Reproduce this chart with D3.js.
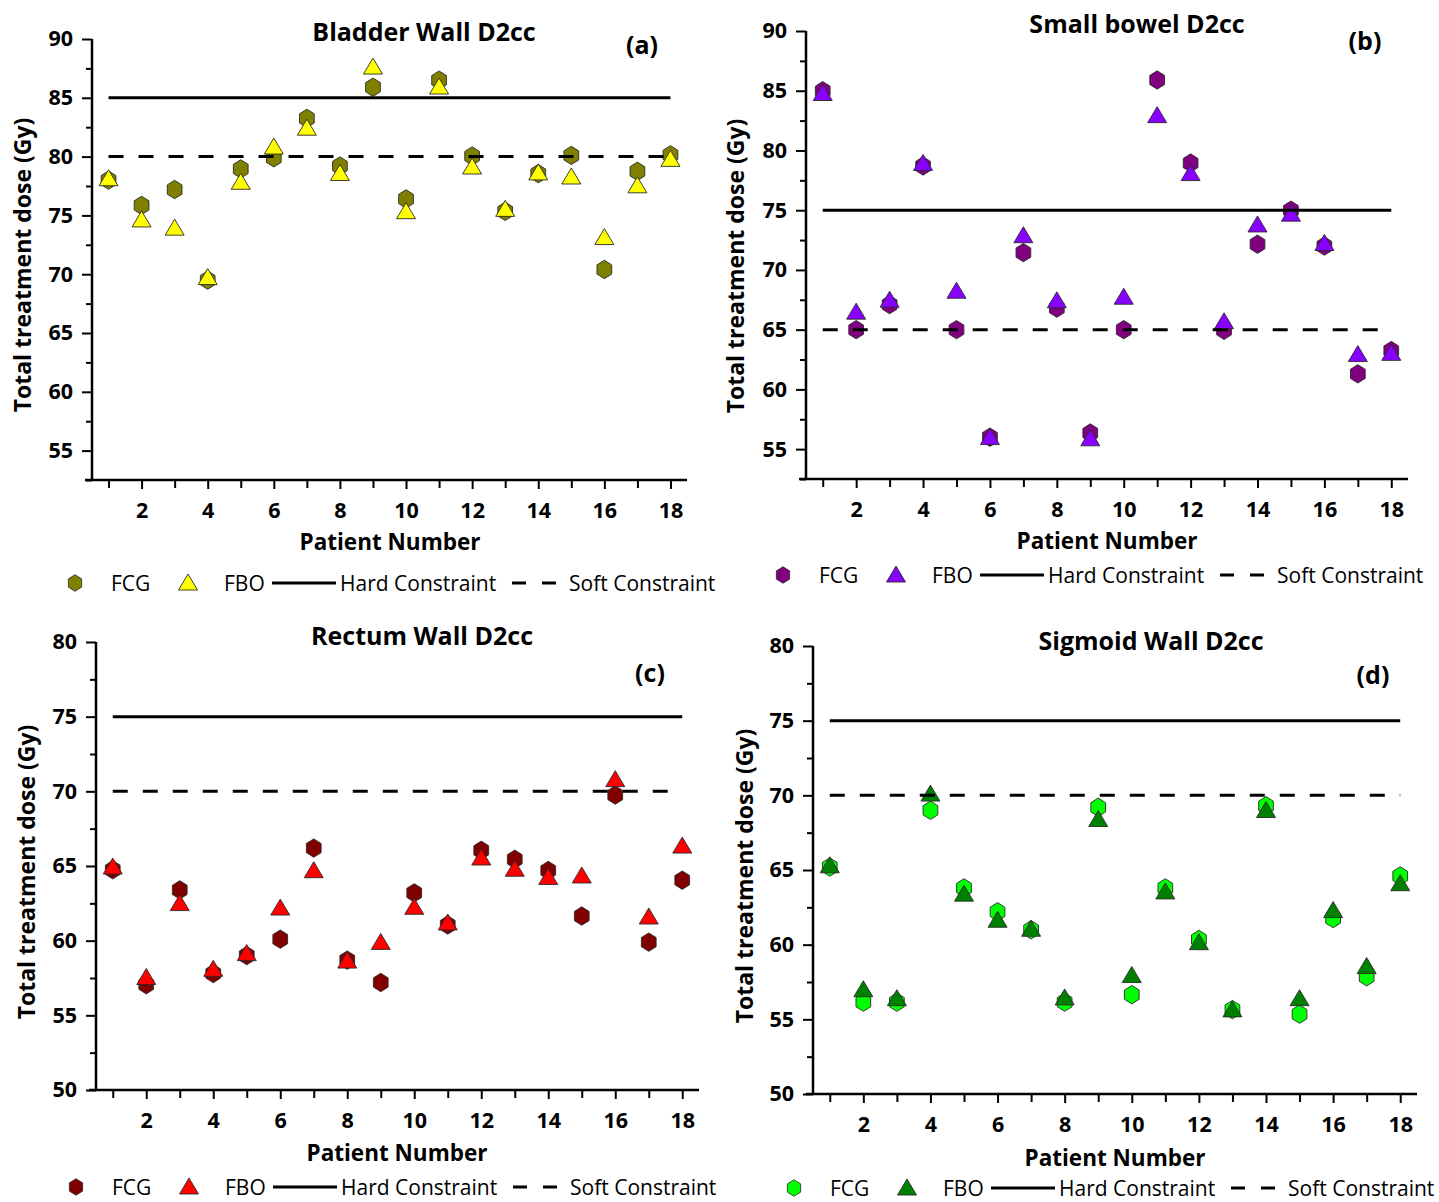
<!DOCTYPE html>
<html>
<head>
<meta charset="utf-8">
<script src="https://cdn.jsdelivr.net/npm/d3@7"></script>
<style>
  html, body { margin: 0; padding: 0; background: #ffffff; }
  svg { display: block; }
  text { font-family: "Open Sans", "DejaVu Sans", sans-serif; fill: #000; }
</style>
</head>
<body>
<svg id="chart" width="1439" height="1202"></svg>
<script>
// Patients and doses (Gy, EQD2 total treatment dose, D2cc)
const patients = [1, 2, 3, 4, 5, 6, 7, 8, 9, 10, 11, 12, 13, 14, 15, 16, 17, 18];
const patientTicks = [2, 4, 6, 8, 10, 12, 14, 16, 18];

const bladderFCG = [78.0, 75.85, 77.2, 69.5, 78.95, 79.9, 83.25, 79.2, 85.9, 76.4, 86.5, 80.05, 75.35, 78.55, 80.1, 70.4, 78.75, 80.15];
const bladderFBO = [78.2, 74.7, 74.0, 69.8, 77.9, 80.9, 82.5, 78.65, 87.7, 75.4, 86.0, 79.2, 75.6, 78.7, 78.35, 73.2, 77.6, 79.85];

const bowelFCG = [85.0, 65.0, 67.1, 78.7, 65.0, 56.0, 71.45, 66.8, 56.35, 65.0, 85.9, 78.95, 64.95, 72.15, 75.0, 72.0, 61.3, 63.25];
const bowelFBO = [84.85, 66.55, 67.55, 79.0, 68.3, 56.05, 72.95, 67.5, 55.95, 67.8, 83.0, 78.15, 65.75, 73.85, 74.75, 72.3, 63.0, 63.1];

const rectumFCG = [64.75, 57.05, 63.4, 57.8, 59.0, 60.1, 66.2, 58.7, 57.2, 63.2, 61.05, 66.05, 65.45, 64.7, 61.65, 69.75, 59.9, 64.05];
const rectumFBO = [65.0, 57.6, 62.55, 58.15, 59.2, 62.25, 64.75, 58.7, 59.95, 62.3, 61.25, 65.6, 64.85, 64.3, 64.4, 70.85, 61.65, 66.4];

const sigmoidFCG = [65.2, 56.15, 56.15, 69.0, 63.8, 62.2, 61.0, 56.15, 69.2, 56.65, 63.8, 60.35, 55.65, 69.3, 55.35, 61.75, 57.85, 64.6];
const sigmoidFBO = [65.35, 57.05, 56.45, 70.15, 63.45, 61.7, 61.1, 56.5, 68.45, 58.0, 63.6, 60.2, 55.7, 69.05, 56.45, 62.35, 58.6, 64.15];

// Dose constraints per organ [hard, soft]
const bladderLimits = [85, 80];
const bowelLimits = [75, 65];
const rectumLimits = [75, 70];
const sigmoidLimits = [75, 70];

// Dose axis ranges and labelled ticks
const bladderDomain = [52.5, 90];
const bowelDomain = [52.5, 90];
const rectumDomain = [50, 80];
const sigmoidDomain = [50, 80];
const doseTicksHigh = [55, 60, 65, 70, 75, 80, 85, 90];
const doseTicksLow = [50, 55, 60, 65, 70, 75, 80];

const legendLabels = ["FCG", "FBO", "Hard Constraint", "Soft Constraint"];
const xTitle = "Patient Number";
const yTitle = "Total treatment dose (Gy)";

// Panel layout
const panels = [
  { title: "Bladder Wall D2cc", tag: "(a)", fcg: bladderFCG, fbo: bladderFBO, limits: bladderLimits,
    domain: bladderDomain, ticks: doseTicksHigh, fcgColor: "#808000", fboColor: "#ffff00",
    left: 92, right: 687, top: 39, bottom: 480,
    titleXY: [424, 31], tagXY: [642, 44], yTitleXY: [22, 265], xTitleXY: [390, 541], legendXY: [75, 583] },
  { title: "Small bowel D2cc", tag: "(b)", fcg: bowelFCG, fbo: bowelFBO, limits: bowelLimits,
    domain: bowelDomain, ticks: doseTicksHigh, fcgColor: "#800080", fboColor: "#8800ff",
    left: 806, right: 1408, top: 31, bottom: 479,
    titleXY: [1137, 23], tagXY: [1365, 40], yTitleXY: [735, 266], xTitleXY: [1107, 540], legendXY: [783, 575] },
  { title: "Rectum Wall D2cc", tag: "(c)", fcg: rectumFCG, fbo: rectumFBO, limits: rectumLimits,
    domain: rectumDomain, ticks: doseTicksLow, fcgColor: "#800000", fboColor: "#ff0000",
    left: 96, right: 699, top: 642, bottom: 1090,
    titleXY: [422, 635], tagXY: [650, 672], yTitleXY: [26, 872], xTitleXY: [397, 1152], legendXY: [76, 1187] },
  { title: "Sigmoid Wall D2cc", tag: "(d)", fcg: sigmoidFCG, fbo: sigmoidFBO, limits: sigmoidLimits,
    domain: sigmoidDomain, ticks: doseTicksLow, fcgColor: "#00ff00", fboColor: "#008000",
    left: 813, right: 1417, top: 646, bottom: 1094,
    titleXY: [1151, 640], tagXY: [1373, 674], yTitleXY: [744, 876], xTitleXY: [1115, 1157], legendXY: [794, 1188] }
];

// Marker shapes: pointy-top hexagon and upward triangle
const hexPath = (() => {
  const rx = 8.5, ry = 9.2, pts = [];
  for (let i = 0; i < 6; i++) {
    const a = Math.PI / 2 + i * Math.PI / 3;
    pts.push([rx * Math.cos(a) / Math.cos(Math.PI / 6) * Math.cos(Math.PI / 6), -ry * Math.sin(a)]);
  }
  return "M" + pts.map(p => p.join(",")).join("L") + "Z";
})();
const triPath = "M0,-8L9.5,8L-9.5,8Z";

const svg = d3.select("#chart");

panels.forEach(p => {
  const g = svg.append("g");
  const x = d3.scaleLinear().domain([0.5, 18.5]).range([p.left, p.right]);
  const y = d3.scaleLinear().domain(p.domain).range([p.bottom, p.top]);

  // minor dose ticks halfway between labelled ticks
  const minor = [];
  for (let v = p.domain[0]; v <= p.domain[1] + 1e-9; v += 2.5) {
    if (!p.ticks.includes(v)) minor.push(v);
  }
  const oddPatients = patients.filter(d => !patientTicks.includes(d));

  const yMajor = g.append("g").attr("transform", `translate(${p.left},0)`)
    .call(d3.axisLeft(y).tickValues(p.ticks).tickSize(10).tickPadding(9).tickFormat(d3.format("d")));
  const yMinor = g.append("g").attr("transform", `translate(${p.left},0)`)
    .call(d3.axisLeft(y).tickValues(minor).tickSize(6).tickFormat(""));
  const xMajor = g.append("g").attr("transform", `translate(0,${p.bottom})`)
    .call(d3.axisBottom(x).tickValues(patientTicks).tickSize(9).tickPadding(14).tickFormat(d3.format("d")));
  const xMinor = g.append("g").attr("transform", `translate(0,${p.bottom})`)
    .call(d3.axisBottom(x).tickValues(oddPatients).tickSize(8).tickFormat(""));

  [yMajor, yMinor, xMajor, xMinor].forEach(ax => {
    ax.select(".domain").remove();
    ax.selectAll(".tick line").attr("stroke", "#000").attr("stroke-width", 2);
    ax.selectAll(".tick text").attr("font-family", "'Open Sans', sans-serif")
      .attr("font-size", 21.5).attr("font-weight", 700).attr("fill", "#000");
  });

  // axis lines
  g.append("line").attr("x1", p.left).attr("x2", p.left).attr("y1", p.top).attr("y2", p.bottom + 1)
    .attr("stroke", "#000").attr("stroke-width", 2.5);
  g.append("line").attr("x1", p.left - 7).attr("x2", p.right).attr("y1", p.bottom).attr("y2", p.bottom)
    .attr("stroke", "#000").attr("stroke-width", 2.5);

  // FCG hexagons, then FBO triangles on top
  g.append("g").selectAll("path").data(patients).join("path")
    .attr("d", hexPath)
    .attr("transform", (d, i) => `translate(${x(d)},${y(p.fcg[i])})`)
    .attr("fill", p.fcgColor).attr("stroke", "#2a2a2a").attr("stroke-width", 0.9);
  g.append("g").selectAll("path").data(patients).join("path")
    .attr("d", triPath)
    .attr("transform", (d, i) => `translate(${x(d)},${y(p.fbo[i])})`)
    .attr("fill", p.fboColor).attr("stroke", "#2a2a2a").attr("stroke-width", 0.9);

  // constraint lines
  g.append("line").attr("x1", x(1)).attr("x2", x(18))
    .attr("y1", y(p.limits[0])).attr("y2", y(p.limits[0]))
    .attr("stroke", "#000").attr("stroke-width", 3);
  g.append("line").attr("x1", x(1)).attr("x2", x(18))
    .attr("y1", y(p.limits[1])).attr("y2", y(p.limits[1]))
    .attr("stroke", "#000").attr("stroke-width", 3).attr("stroke-dasharray", "15,15");

  // titles
  g.append("text").attr("x", p.titleXY[0]).attr("y", p.titleXY[1]).attr("text-anchor", "middle")
    .attr("dominant-baseline", "central").attr("font-size", 25).attr("font-weight", 700).text(p.title);
  g.append("text").attr("x", p.tagXY[0]).attr("y", p.tagXY[1]).attr("text-anchor", "middle")
    .attr("dominant-baseline", "central").attr("font-size", 25).attr("font-weight", 700).text(p.tag);
  g.append("text").attr("transform", `translate(${p.yTitleXY[0]},${p.yTitleXY[1]}) rotate(-90)`)
    .attr("text-anchor", "middle").attr("dominant-baseline", "central")
    .attr("font-size", 23).attr("font-weight", 700).text(yTitle);
  g.append("text").attr("x", p.xTitleXY[0]).attr("y", p.xTitleXY[1]).attr("text-anchor", "middle")
    .attr("dominant-baseline", "central").attr("font-size", 22.5).attr("font-weight", 700).text(xTitle);

  // legend
  const [lx, ly] = p.legendXY;
  const lg = g.append("g").attr("transform", `translate(${lx},${ly})`);
  lg.append("path").attr("d", hexPath).attr("transform", "scale(0.9)")
    .attr("fill", p.fcgColor).attr("stroke", "#2a2a2a").attr("stroke-width", 0.9);
  lg.append("path").attr("d", triPath).attr("transform", "translate(113,-1)")
    .attr("fill", p.fboColor).attr("stroke", "#2a2a2a").attr("stroke-width", 0.9);
  lg.append("line").attr("x1", 197).attr("x2", 261).attr("y1", 0).attr("y2", 0)
    .attr("stroke", "#000").attr("stroke-width", 3);
  lg.append("line").attr("x1", 437).attr("x2", 482).attr("y1", 0).attr("y2", 0)
    .attr("stroke", "#000").attr("stroke-width", 3).attr("stroke-dasharray", "14,16");
  [[36, 0], [149, 1], [265, 2], [494, 3]].forEach(([dx, k]) => {
    lg.append("text").attr("x", dx).attr("y", 0).attr("dominant-baseline", "central")
      .attr("font-size", 21).text(legendLabels[k]);
  });
});
</script>
</body>
</html>
